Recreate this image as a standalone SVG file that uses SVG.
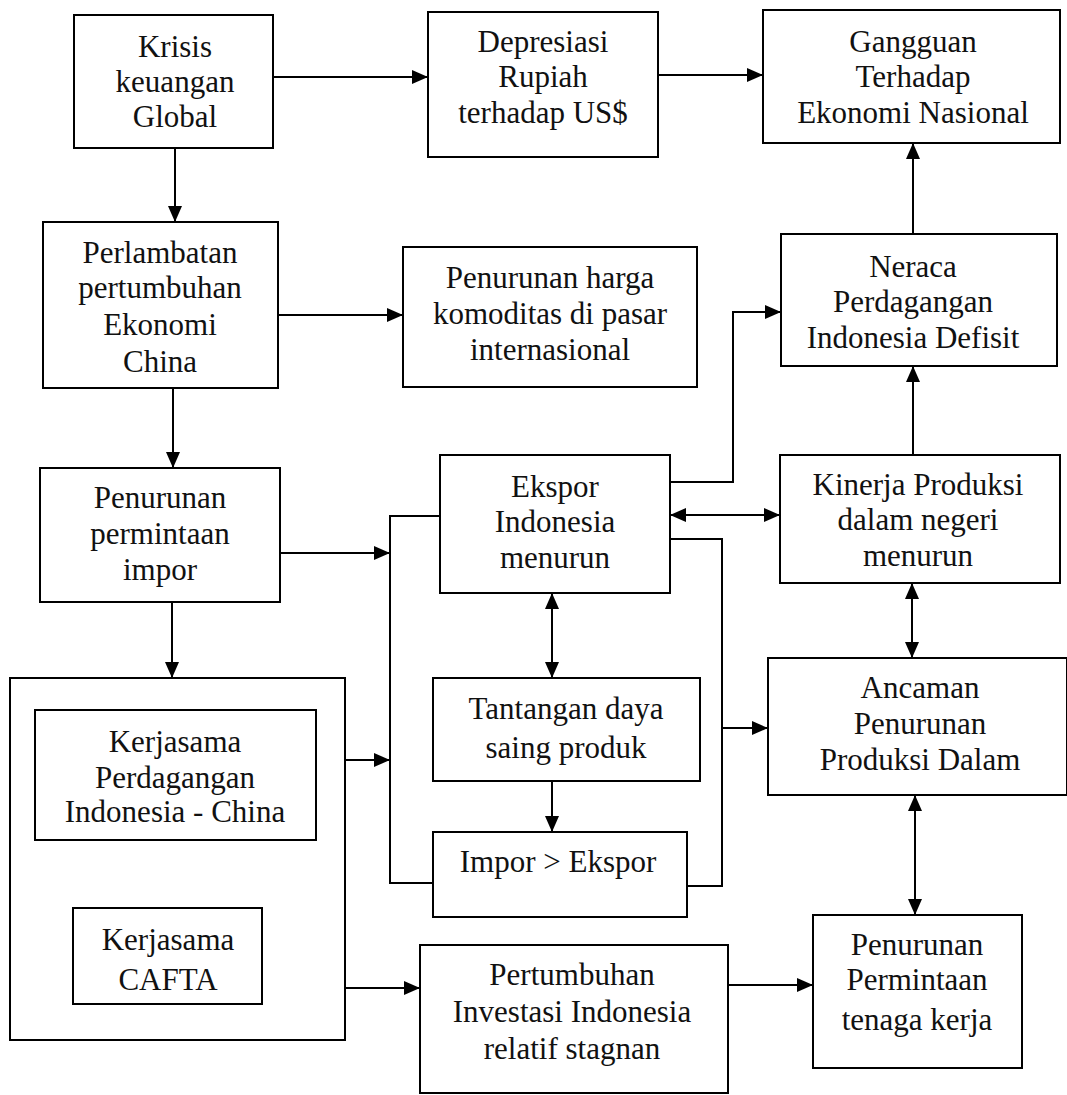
<svg xmlns="http://www.w3.org/2000/svg" width="1067" height="1095" viewBox="0 0 1067 1095">
<style>
.b{fill:#fff;stroke:#000;stroke-width:2}
.t{font-family:"Liberation Serif",serif;font-size:31px;fill:#111;text-anchor:middle}
.c{fill:none;stroke:#000;stroke-width:2}
</style>
<defs>
<marker id="a" viewBox="0 0 16 14" refX="16" refY="7" markerWidth="16" markerHeight="14" markerUnits="userSpaceOnUse" orient="auto-start-reverse"><path d="M0,0L16,7L0,14z" fill="#000"/></marker>
</defs>
<rect width="1067" height="1095" fill="#fff"/>
<g id="connectors">
<path class="c" d="M273,77H428" marker-end="url(#a)"/>
<path class="c" d="M658,75H763" marker-end="url(#a)"/>
<path class="c" d="M175,148V222" marker-end="url(#a)"/>
<path class="c" d="M278,315H403" marker-end="url(#a)"/>
<path class="c" d="M173,388V468" marker-end="url(#a)"/>
<path class="c" d="M280,553H390" marker-end="url(#a)"/>
<path class="c" d="M440,516H390V883H433"/>
<path class="c" d="M345,760H390" marker-end="url(#a)"/>
<path class="c" d="M670,482H733V312H781" marker-end="url(#a)"/>
<path class="c" d="M670,515H780" marker-start="url(#a)" marker-end="url(#a)"/>
<path class="c" d="M670,539H722V886H687"/>
<path class="c" d="M722,728H768" marker-end="url(#a)"/>
<path class="c" d="M552,593V678" marker-start="url(#a)" marker-end="url(#a)"/>
<path class="c" d="M552,781V832" marker-end="url(#a)"/>
<path class="c" d="M913,455V366" marker-end="url(#a)"/>
<path class="c" d="M913,234V143" marker-end="url(#a)"/>
<path class="c" d="M912,583V658" marker-start="url(#a)" marker-end="url(#a)"/>
<path class="c" d="M915,795V915" marker-start="url(#a)" marker-end="url(#a)"/>
<path class="c" d="M345,988H420" marker-end="url(#a)"/>
<path class="c" d="M728,985H813" marker-end="url(#a)"/>
<path class="c" d="M172,908V840" marker-end="url(#a)"/>
<path class="c" d="M172,602V678" marker-end="url(#a)"/>
</g>
<g id="krisis"><rect class="b" x="74" y="15" width="199" height="133"/><text class="t" x="175" y="57">Krisis</text><text class="t" x="175" y="92">keuangan</text><text class="t" x="175" y="127">Global</text></g>
<g id="depresiasi"><rect class="b" x="428" y="12" width="230" height="145"/><text class="t" x="543" y="52">Depresiasi</text><text class="t" x="543" y="87">Rupiah</text><text class="t" x="543" y="123">terhadap US$</text></g>
<g id="gangguan"><rect class="b" x="763" y="10" width="297" height="133"/><text class="t" x="913" y="52">Gangguan</text><text class="t" x="913" y="87">Terhadap</text><text class="t" x="913" y="123">Ekonomi Nasional</text></g>
<g id="perlambatan"><rect class="b" x="43" y="222" width="235" height="166"/><text class="t" x="160" y="263">Perlambatan</text><text class="t" x="160" y="298">pertumbuhan</text><text class="t" x="160" y="335">Ekonomi</text><text class="t" x="160" y="372">China</text></g>
<g id="harga"><rect class="b" x="403" y="247" width="294" height="140"/><text class="t" x="550" y="288">Penurunan harga</text><text class="t" x="550" y="324">komoditas di pasar</text><text class="t" x="550" y="360">internasional</text></g>
<g id="neraca"><rect class="b" x="781" y="234" width="276" height="132"/><text class="t" x="913" y="277">Neraca</text><text class="t" x="913" y="312">Perdagangan</text><text class="t" x="913" y="348">Indonesia Defisit</text></g>
<g id="permintaan-impor"><rect class="b" x="40" y="468" width="240" height="134"/><text class="t" x="160" y="508">Penurunan</text><text class="t" x="160" y="544">permintaan</text><text class="t" x="160" y="580">impor</text></g>
<g id="ekspor"><rect class="b" x="440" y="455" width="230" height="138"/><text class="t" x="555" y="497">Ekspor</text><text class="t" x="555" y="532">Indonesia</text><text class="t" x="555" y="568">menurun</text></g>
<g id="kinerja"><rect class="b" x="780" y="455" width="280" height="128"/><text class="t" x="918" y="495">Kinerja Produksi</text><text class="t" x="918" y="530">dalam negeri</text><text class="t" x="918" y="566">menurun</text></g>
<g id="tantangan"><rect class="b" x="433" y="678" width="267" height="103"/><text class="t" x="566" y="719">Tantangan daya</text><text class="t" x="566" y="758">saing produk</text></g>
<g id="ancaman"><rect class="b" x="768" y="658" width="299" height="137"/><text class="t" x="920" y="698">Ancaman</text><text class="t" x="920" y="734">Penurunan</text><text class="t" x="920" y="770">Produksi Dalam</text></g>
<g id="impor-ekspor"><rect class="b" x="433" y="832" width="254" height="85"/><text class="t" x="558" y="872">Impor &gt; Ekspor</text></g>
<g id="kerjasama-group"><rect class="b" x="10" y="678" width="335" height="362"/>
<g id="kerjasama-perdagangan"><rect class="b" x="35" y="710" width="281" height="130"/><text class="t" x="175" y="752">Kerjasama</text><text class="t" x="175" y="788">Perdagangan</text><text class="t" x="175" y="822">Indonesia - China</text></g>
<g id="cafta"><rect class="b" x="73" y="908" width="189" height="96"/><text class="t" x="168" y="950">Kerjasama</text><text class="t" x="168" y="990">CAFTA</text></g>
</g>
<g id="pertumbuhan"><rect class="b" x="420" y="945" width="308" height="148"/><text class="t" x="572" y="985">Pertumbuhan</text><text class="t" x="572" y="1022">Investasi  Indonesia</text><text class="t" x="572" y="1059">relatif stagnan</text></g>
<g id="tenaga-kerja"><rect class="b" x="813" y="915" width="209" height="153"/><text class="t" x="917" y="955">Penurunan</text><text class="t" x="917" y="990">Permintaan</text><text class="t" x="917" y="1030">tenaga kerja</text></g>
</svg>
